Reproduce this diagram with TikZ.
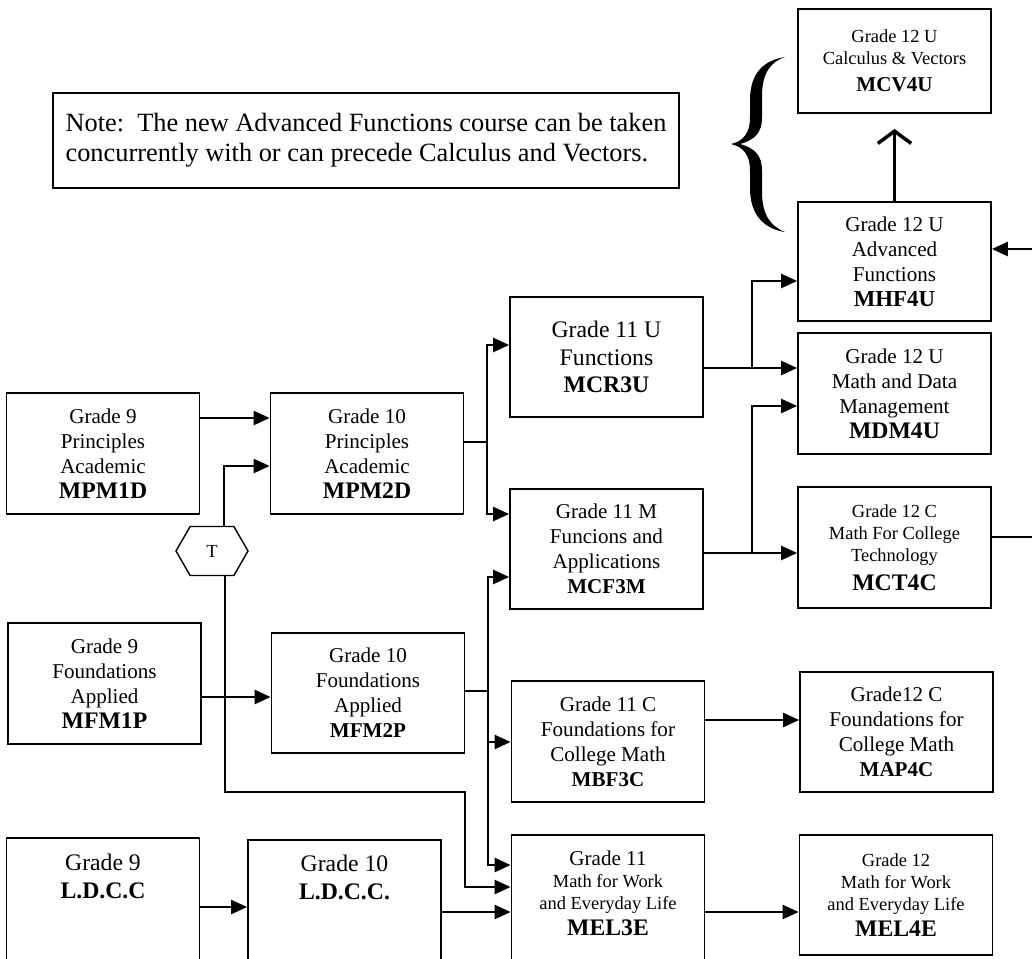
\documentclass[tikz,border=0pt]{standalone}
\usepackage{fontspec}
\setmainfont{Liberation Serif}
\usetikzlibrary{arrows.meta,shapes.symbols}
\newcommand{\szA}{\fontsize{12}{14.2}\selectfont}
\newcommand{\szB}{\fontsize{13.5}{15.7}\selectfont}
\newcommand{\szC}{\fontsize{10.5}{12.5}\selectfont}
\begin{document}
\begin{tikzpicture}[x=0.02cm, y=-0.02cm,
    box/.style = {draw, line width=1.1pt, align=center, minimum width=3.86cm, minimum height=2.42cm, inner sep=0pt, font=\szA},
    arr/.style = {line width=1.1pt, -{Triangle[length=9pt,width=8pt]}},
    ln/.style = {line width=1.1pt}]
\useasboundingbox (0,0) rectangle (1032,958);
\clip (0,0) rectangle (1032,958);

% note
\node[draw, line width=1.1pt, align=left, minimum width=12.52cm, minimum height=1.9cm, font=\fontsize{15}{17}\selectfont] (0) at (366,140.5)
  {Note:\ \ The new Advanced Functions course can be taken\\concurrently with or can precede Calculus and Vectors.};

% grade 9
\node[box] (1) at (103,453.5) {Grade 9\\Principles\\Academic\\\szB\bfseries MPM1D};
\node[box] (3) at (104.5,683.5) {Grade 9\\Foundations\\Applied\\\szB\bfseries MFM1P};
\node[box, minimum height=2.74cm, font=\szB] (5) at (103,906.5) {Grade 9\\\bfseries L.D.C.C\\[18.5pt]\mbox{}};

% grade 10
\node[box] (2) at (367,453.5) {Grade 10\\Principles\\Academic\\\szB\bfseries MPM2D};
\node[box, minimum height=2.4cm] (4) at (368,693) {Grade 10\\Foundations\\Applied\\\bfseries MFM2P};
\node[box, minimum height=2.7cm, font=\szB] (6) at (344.5,907.5) {Grade 10\\\bfseries L.D.C.C.\\[18.5pt]\mbox{}};
\node[draw, line width=0.8pt, shape=signal, signal to=west and east, signal pointer angle=120,
      minimum width=1.44cm, minimum height=0.98cm, inner sep=0pt, font=\szC] (T) at (212,551) {T};

% grade 11
\node[box, minimum height=2.4cm, font=\szB] (7) at (606.5,357) {Grade 11 U\\Functions\\\bfseries MCR3U};
\node[box, minimum height=2.4cm] (8) at (606.5,549) {Grade 11 M\\Funcions and\\Applications\\\bfseries MCF3M};
\node[box] (9) at (608,741.5) {Grade 11 C\\Foundations for\\College Math\\\bfseries MBF3C};
\node[box, minimum height=2.8cm, font=\szC] (10) at (608,905) {\szA Grade 11\\Math for Work\\and Everyday Life\\[2pt]\szB\bfseries MEL3E\\[1pt]\mbox{}};

% grade 12
\node[box, minimum height=2.08cm, font=\szC] (11) at (894.5,61) {Grade 12 U\\Calculus \& Vectors\\[3pt]\szA\bfseries MCV4U};
\node[box, minimum height=2.38cm] (12) at (894.5,261.5) {Grade 12 U\\Advanced\\Functions\\\fontsize{13}{15}\selectfont\bfseries MHF4U};
\node[box] (13) at (894.5,393.5) {Grade 12 U\\Math and Data\\Management\\\szB\bfseries MDM4U};
\node[box, font=\szC] (14) at (894.5,547.5) {Grade 12 C\\Math For College\\Technology\\[4pt]\szB\bfseries MCT4C};
\node[box, minimum height=2.4cm] (15) at (896.5,732) {Grade12 C\\Foundations for\\College Math\\\bfseries MAP4C};
\node[box, minimum height=2.4cm, font=\szC] (16) at (896,895) {Grade 12\\Math for Work\\and Everyday Life\\[2pt]\szB\bfseries MEL4E};

% brace
\fill (785,57) .. controls (765,60) and (750,72) .. (750,100) -- (750,118)
  .. controls (750,132) and (744,141) .. (731,144) .. controls (744,147) and (750,156) .. (750,170)
  -- (750,188) .. controls (750,216) and (765,229) .. (785,232)
  .. controls (770,226) and (762,214) .. (762,192) -- (762,170)
  .. controls (762,156) and (755,148) .. (740,144) .. controls (755,140) and (762,132) .. (762,118)
  -- (762,96) .. controls (762,74) and (770,62) .. (785,57) -- cycle;

% joints
\coordinate (j1) at (487,442);
\coordinate (j2) at (488,691);
\coordinate (j3) at (752,368);
\coordinate (j4) at (752,553);
\coordinate (r1) at (1040,537);
\coordinate (r2) at (1040,249);

\draw[arr] (1.east |- 0,418) -- (2.west |- 0,418);
\draw[arr] (3.east |- 0,697) -- (4.west |- 0,697);
\draw[arr] (5.east |- 0,907) -- (6.west |- 0,907);
\draw[arr] (T.north -| 224,0) |- (2.west |- 0,466);
\draw[arr] (T.south -| 225,0) |- (4.east |- 0,792) |- (10.west |- 0,887);

\draw[ln] (2.east |- j1) -- (j1);
\draw[arr] (j1) |- (7.west |- 0,345);
\draw[arr] (j1) |- (8.west |- 0,514);
\draw[ln] (4.east |- j2) -- (j2);
\draw[arr] (j2) |- (8.west |- 0,577);
\draw[arr] (j2) |- (9.west |- 0,742);
\draw[arr] (j2) |- (10.west |- 0,865);
\draw[arr] (6.east |- 0,912) -- (10.west |- 0,912);

\draw[arr] (7.east |- j3) -- (13.west |- j3);
\draw[arr] (j3) |- (12.west |- 0,281);
\draw[arr] (8.east |- j4) -- (14.west |- j4);
\draw[arr] (j4) |- (13.west |- 0,406);
\draw[arr] (9.east |- 0,720) -- (15.west |- 0,720);
\draw[arr] (10.east |- 0,912) -- (16.west |- 0,912);

\draw[ln] (14.east |- r1) -- (r1);
\draw[arr] (r2) -- (12.east |- r2);
\draw[line width=2pt, -{Straight Barb[length=7pt,width=19pt]}, shorten >=0.3cm] (12.north) -- (11.south);
\end{tikzpicture}
\end{document}
